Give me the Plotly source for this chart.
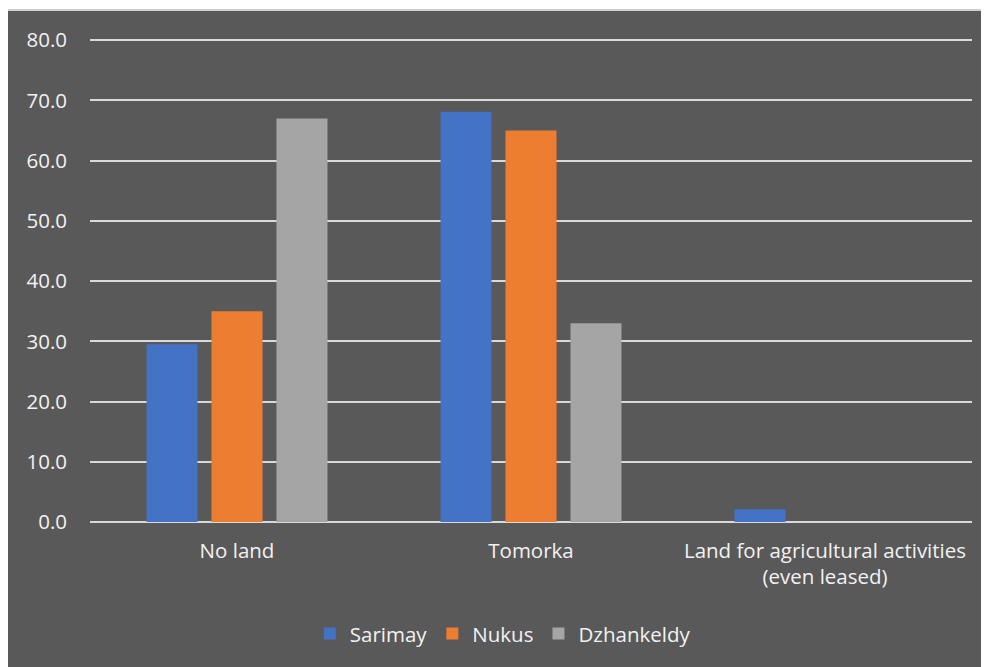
import plotly.graph_objects as go

categories = ["No land", "Tomorka", "Land for agricultural activities<br>(even leased)"]
sarimay = [29.5, 68.1, 2.1]
nukus = [35.0, 65.0, 0.0]
dzhankeldy = [67.0, 33.0, 0.0]

series = [
    ("Sarimay", sarimay, "#4472C4"),
    ("Nukus", nukus, "#ED7D31"),
    ("Dzhankeldy", dzhankeldy, "#A5A5A5"),
]

fig = go.Figure()
for name, vals, col in series:
    fig.add_trace(go.Bar(
        x=categories, y=vals, name=name,
        marker=dict(color=col, line=dict(width=0)),
    ))

txt = "#F2F2F2"
grid = "#D9D9D9"
fs = 20.5

# page body has an 8px margin, so the figure is sized to fit the window
fig.update_layout(
    width=981, height=659,
    margin=dict(l=82, r=17, t=31, b=145),
    paper_bgcolor="white",
    plot_bgcolor="rgba(0,0,0,0)",
    font=dict(family="Open Sans, Noto Sans, sans-serif", size=fs, color=txt),
    barmode="group",
    bargap=0.337,
    bargroupgap=0.215,
    showlegend=True,
    legend=dict(orientation="h", x=0.468, xanchor="center", y=-0.19, yanchor="top",
                bgcolor="rgba(0,0,0,0)", font=dict(size=fs, color=txt),
                itemwidth=30, traceorder="normal"),
    xaxis=dict(showgrid=False, showline=False, ticks="", ticklabelstandoff=14,
               tickfont=dict(size=fs, color=txt)),
    yaxis=dict(range=[0, 80.2], tickvals=[0, 10, 20, 30, 40, 50, 60, 70, 80],
               tickformat=".1f", showgrid=True,
               gridcolor=grid, gridwidth=1.5, zeroline=True, zerolinecolor=grid,
               zerolinewidth=1.5, showline=False, ticks="", ticklabelstandoff=22,
               tickfont=dict(size=fs, color=txt)),
    shapes=[dict(type="rect", xref="paper", yref="paper", layer="below",
                 x0=(7 - 90) / 882, x1=(995 - 90) / 882,
                 y0=(522 - 675) / 483, y1=(522 - 10) / 483,
                 fillcolor="#595959", line=dict(color="#D0D0D0", width=2))],
)

fig.write_html("out.html")
